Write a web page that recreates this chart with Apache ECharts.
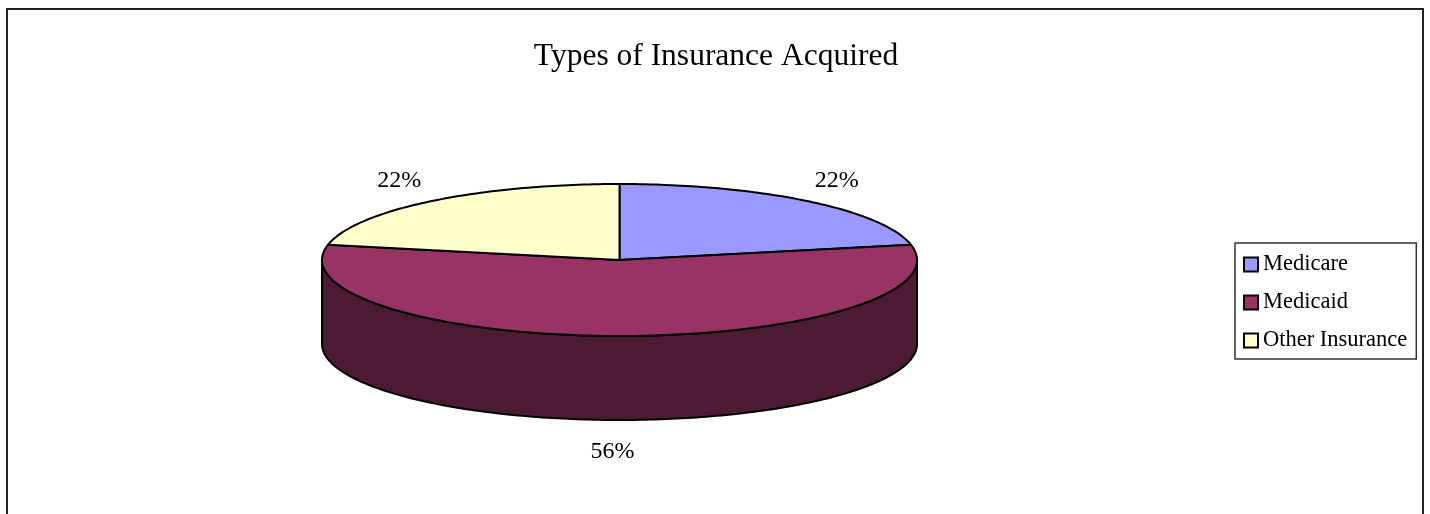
<!DOCTYPE html>
<html>
<head>
<meta charset="utf-8">
<title>Types of Insurance Acquired</title>
<script src="https://cdn.jsdelivr.net/npm/echarts@6/dist/echarts.min.js"></script>
<style>
  html, body { margin: 0; padding: 0; background: #fff; }
  #chart { width: 1430px; height: 514px; }
</style>
</head>
<body>
<div id="chart"></div>
<script>
const categories = ["Medicare", "Medicaid", "Other Insurance"];
const shares = [21.8, 56.4, 21.8];
const topColors = ["#9999ff", "#993366", "#ffffcc"];
const wallColors = ["#4c4c80", "#4d1a33", "#808066"];
const labelOffsets = [[29, -20], [-7, 32], [-32, -20]];

const fontName = '"Liberation Serif", serif';
const pie = { cx: 619.5, cy: 260, rx: 297.5, ry: 76, depth: 84 };

const total = shares.reduce((a, b) => a + b, 0);

function rimPoint(deg, drop) {
  const t = (deg * Math.PI) / 180;
  return [pie.cx + pie.rx * Math.sin(t), pie.cy - pie.ry * Math.cos(t) + drop];
}

function arcPoints(from, to, drop) {
  const pts = [];
  const steps = Math.max(2, Math.ceil(Math.abs(to - from)));
  for (let i = 0; i <= steps; i++) {
    pts.push(rimPoint(from + ((to - from) * i) / steps, drop));
  }
  return pts;
}

function sliceRenderer(index) {
  return function (params, api) {
    const start = api.value(0);
    const end = api.value(1);
    const children = [];
    const line = { stroke: "#000", lineWidth: 2, lineJoin: "round" };

    // only the front half of the rim shows a wall
    const wallFrom = Math.max(start, 90);
    const wallTo = Math.min(end, 270);
    if (wallTo > wallFrom) {
      const wall = arcPoints(wallFrom, wallTo, 0).concat(
        arcPoints(wallFrom, wallTo, pie.depth).reverse()
      );
      children.push({
        type: "polygon",
        shape: { points: wall },
        style: { fill: wallColors[index], ...line },
      });
    }

    children.push({
      type: "polygon",
      shape: { points: [[pie.cx, pie.cy]].concat(arcPoints(start, end, 0)) },
      style: { fill: topColors[index], ...line },
    });

    const mid = (start + end) / 2;
    const drop = index === 1 ? pie.depth : 0;
    const anchor = rimPoint(mid, drop);
    children.push({
      type: "text",
      style: {
        x: anchor[0] + labelOffsets[index][0],
        y: anchor[1] + labelOffsets[index][1],
        text: Math.round((shares[index] / total) * 100) + "%",
        fill: "#000",
        font: "24px " + fontName,
        align: "center",
        verticalAlign: "middle",
      },
    });

    return { type: "group", children };
  };
}

let running = 0;
const series = categories.map((name, i) => {
  const start = (running / total) * 360;
  running += shares[i];
  const end = (running / total) * 360;
  return {
    name,
    type: "custom",
    coordinateSystem: "none",
    silent: true,
    itemStyle: { color: topColors[i] },
    data: [[start, end]],
    renderItem: sliceRenderer(i),
  };
});

const chart = echarts.init(document.getElementById("chart"));
chart.setOption({
  backgroundColor: "#fff",
  animation: false,
  title: {
    text: "Types of Insurance Acquired",
    left: 711,
    top: 36,
    textAlign: "center",
    textStyle: {
      fontFamily: fontName,
      fontSize: 31.5,
      fontWeight: "normal",
      color: "#000",
    },
  },
  legend: {
    data: categories,
    orient: "vertical",
    left: 1235,
    top: 243,
    padding: [10, 9, 7, 8],
    itemGap: 15,
    itemWidth: 14,
    itemHeight: 14,
    icon: "rect",
    selectedMode: false,
    borderColor: "#333",
    borderWidth: 1.5,
    itemStyle: { borderColor: "#000", borderWidth: 2 },
    textStyle: {
      fontFamily: fontName,
      fontSize: 22.5,
      color: "#000",
    },
  },
  graphic: [
    {
      type: "rect",
      silent: true,
      z: -1,
      shape: { x: 7, y: 9, width: 1416, height: 600 },
      style: { fill: "none", stroke: "#222", lineWidth: 2 },
    },
  ],
  series,
});
</script>
</body>
</html>
